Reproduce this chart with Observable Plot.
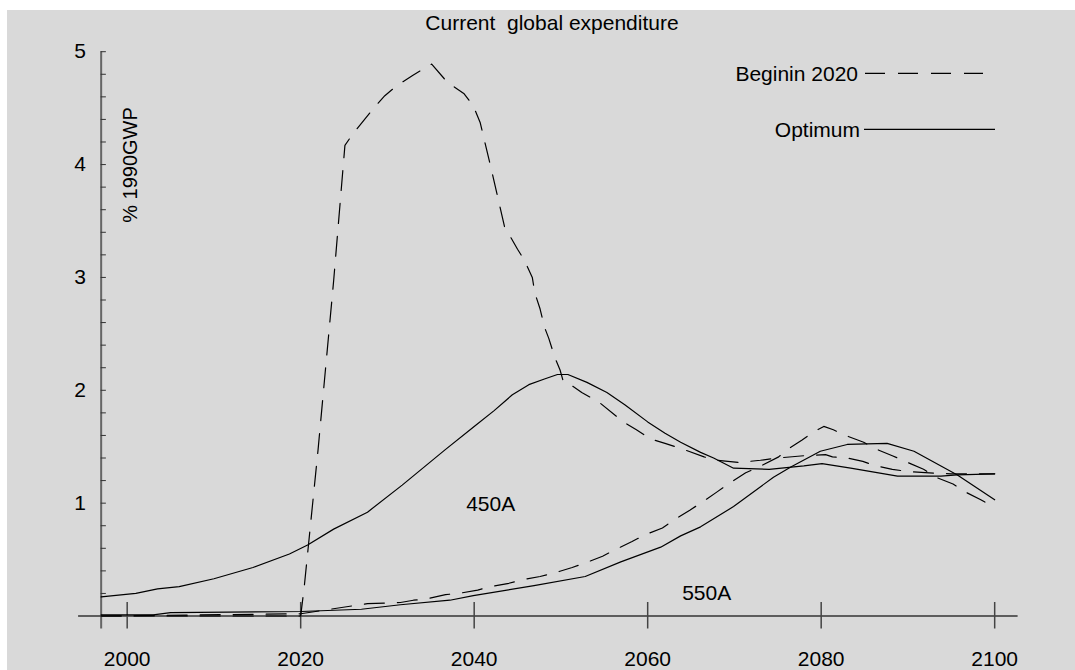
<!DOCTYPE html>
<html>
<head>
<meta charset="utf-8">
<script src="https://cdn.jsdelivr.net/npm/d3@7"></script>
<script src="https://cdn.jsdelivr.net/npm/@observablehq/plot@0.6"></script>
<style>
  html, body { margin: 0; padding: 0; background: #ffffff; }
  #wrap { position: relative; width: 1075px; height: 670px; overflow: hidden; }
  #bg { position: absolute; left: 7px; top: 10px; right: 0; bottom: 0; background: #d9d9d9; }
  #chart { position: absolute; left: 0; top: 0; }
</style>
</head>
<body>
<div id="wrap"><div id="bg"></div><div id="chart"></div></div>
<script>
// ---- Data ----
// 450A, optimum path (solid)
const opt450Years  = [1997, 2001, 2003.5, 2006, 2010, 2014.5, 2018.7, 2020.8, 2023.8, 2027.7, 2031.7, 2036.6, 2040, 2042.3, 2044.4, 2046.3, 2048.1, 2049.6, 2050.8, 2053, 2055.3, 2057.4, 2060, 2062, 2063.8, 2066.1, 2067.6, 2069.9, 2074, 2078, 2080.1, 2083.4, 2088.8, 2093.8, 2095.7, 2100];
const opt450Values = [0.17, 0.20, 0.24, 0.26, 0.33, 0.43, 0.55, 0.63, 0.77, 0.92, 1.16, 1.47, 1.68, 1.82, 1.96, 2.05, 2.10, 2.14, 2.14, 2.07, 1.98, 1.87, 1.72, 1.62, 1.54, 1.45, 1.40, 1.31, 1.30, 1.33, 1.35, 1.31, 1.24, 1.24, 1.25, 1.26];

// 450A, begin in 2020 (dashed)
const begin450Years  = [1997, 2020, 2020.4, 2022, 2023.8, 2025.1, 2026, 2028.2, 2029.7, 2031.1, 2032.9, 2035.1, 2036.9, 2038.8, 2039.9, 2040.7, 2042, 2043.5, 2045, 2045.8, 2046.7, 2047.0, 2047.6, 2048.1, 2048.6, 2049.3, 2049.9, 2050.3, 2051.1, 2052.4, 2054.3, 2057.2, 2058.7, 2060.3, 2062, 2064, 2066.5, 2068, 2070.5, 2073, 2075, 2078, 2080.5, 2081.3, 2083, 2084.8, 2086.3, 2088.2, 2090, 2092, 2095, 2100];
const begin450Values = [0, 0, 0.25, 1.47, 2.97, 4.17, 4.27, 4.48, 4.61, 4.70, 4.79, 4.89, 4.73, 4.63, 4.52, 4.37, 3.95, 3.45, 3.25, 3.15, 3.00, 2.86, 2.72, 2.56, 2.46, 2.29, 2.18, 2.07, 2.05, 1.98, 1.90, 1.72, 1.65, 1.57, 1.53, 1.48, 1.41, 1.38, 1.36, 1.38, 1.40, 1.42, 1.43, 1.41, 1.40, 1.37, 1.33, 1.30, 1.28, 1.27, 1.26, 1.26];

// 550A, optimum path (solid)
const opt550Years  = [1997, 2003, 2005, 2020, 2027, 2031.5, 2037.2, 2039.9, 2046.9, 2052.8, 2056.9, 2061.5, 2063.8, 2066.1, 2069.9, 2074.5, 2076.5, 2079.9, 2083, 2087.6, 2090.7, 2095.7, 2100];
const opt550Values = [0.01, 0.01, 0.03, 0.04, 0.06, 0.10, 0.14, 0.18, 0.27, 0.35, 0.48, 0.61, 0.71, 0.79, 0.97, 1.23, 1.32, 1.46, 1.52, 1.53, 1.46, 1.25, 1.03];

// 550A, begin in 2020 (dashed)
const begin550Years  = [1997, 2020, 2023.4, 2027.7, 2031.5, 2033, 2034.4, 2036.7, 2038.2, 2040.4, 2041.8, 2044, 2045.5, 2047.6, 2049.2, 2051.3, 2052.8, 2054.8, 2056.3, 2058.2, 2059.7, 2061.7, 2063, 2064.9, 2066.3, 2068, 2069.5, 2071.3, 2072.8, 2075.1, 2076, 2077.8, 2079.1, 2080.3, 2081.4, 2082.8, 2084.9, 2086.3, 2088.2, 2089.7, 2091.8, 2093.2, 2095.2, 2096.6, 2098.4, 2100];
const begin550Values = [0, 0.02, 0.06, 0.11, 0.12, 0.14, 0.15, 0.19, 0.20, 0.23, 0.26, 0.29, 0.32, 0.35, 0.38, 0.43, 0.47, 0.53, 0.59, 0.66, 0.72, 0.78, 0.85, 0.94, 1.01, 1.10, 1.18, 1.27, 1.32, 1.41, 1.47, 1.56, 1.63, 1.68, 1.65, 1.60, 1.54, 1.48, 1.42, 1.37, 1.30, 1.23, 1.17, 1.10, 1.03, 0.96];

// Axes / labels
const xTickYears = [2000, 2020, 2040, 2060, 2080, 2100];
const yTickLabels = [1, 2, 3, 4, 5];
const yMinorTicks = [0.2,0.4,0.6,0.8,1,1.2,1.4,1.6,1.8,2,2.2,2.4,2.6,2.8,3,3.2,3.4,3.6,3.8,4,4.2,4.4,4.6,4.8,5];
const yAxisYear = 1997;
const annotations = [{label: "450A", year: 2041.9, value: 0.99}, {label: "550A", year: 2066.8, value: 0.205}];
const titleText = "Current  global expenditure";
const yLabelText = "% 1990GWP";
const legendItems = [{label: "Beginin 2020", dash: "20,13"}, {label: "Optimum", dash: null}];

// ---- Build ----
const rows = (ys, vs) => ys.map((year, i) => ({year, value: vs[i]}));
const FONT = "'Liberation Sans', Arial, Helvetica, sans-serif";
const lineStyle = {x: "year", y: "value", stroke: "#000", strokeWidth: 1.2, curve: "linear"};

const chart = Plot.plot({
  width: 1075,
  height: 670,
  marginLeft: 78.1,
  marginRight: 57.4,
  marginTop: 51.2,
  marginBottom: 41.5,
  x: {domain: [1994.4, 2102.7], axis: null},
  y: {domain: [-0.115, 5], axis: null},
  style: {background: "transparent", fontFamily: FONT, fontSize: "21px", color: "#000", overflow: "visible"},
  marks: [
    Plot.ruleY([0], {stroke: "#333", strokeWidth: 1.4}),
    Plot.ruleX([yAxisYear], {stroke: "#666", strokeWidth: 2}),
    Plot.ruleY(yMinorTicks, {x1: yAxisYear, x2: yAxisYear + 0.6, stroke: "#333", strokeWidth: 1}),
    Plot.ruleX(xTickYears, {y1: -0.115, y2: 0.12, stroke: "#444", strokeWidth: 1.5}),
    Plot.text(yTickLabels, {x: yAxisYear, y: d => d, dx: -21, text: d => String(d), fill: "#000", fontSize: 21}),
    Plot.text(xTickYears, {x: d => d, y: 0, dy: 43, text: d => String(d), fill: "#000", fontSize: 21}),
    Plot.line(rows(opt450Years, opt450Values), lineStyle),
    Plot.line(rows(opt550Years, opt550Values), lineStyle),
    Plot.line(rows(begin450Years, begin450Values), {...lineStyle, strokeDasharray: "20,13"}),
    Plot.line(rows(begin550Years, begin550Values), {...lineStyle, strokeDasharray: "20,13"}),
    Plot.text(annotations, {x: "year", y: "value", text: "label", fill: "#000", fontSize: 21})
  ]
});
document.getElementById("chart").appendChild(chart);

// Title, y label and legend (decorations)
const svg = d3.select(chart);
svg.append("text").attr("x", 552).attr("y", 30).attr("text-anchor", "middle")
  .style("white-space", "pre").attr("font-family", FONT).attr("font-size", 21).attr("fill", "#000")
  .text(titleText);
svg.append("text").attr("transform", "translate(136.5,165) rotate(-90)").attr("text-anchor", "middle")
  .attr("font-family", FONT).attr("font-size", 20).attr("fill", "#000").text(yLabelText);
const legendY = [73.3, 129.3];
const legendTextRight = [858, 860];
const legendLineX = [[865, 983], [864, 995]];
legendItems.forEach((item, i) => {
  svg.append("text").attr("x", legendTextRight[i]).attr("y", legendY[i]).attr("dy", "0.36em")
    .attr("text-anchor", "end").attr("font-family", FONT).attr("font-size", 21).attr("fill", "#000").text(item.label);
  const ln = svg.append("line").attr("x1", legendLineX[i][0]).attr("x2", legendLineX[i][1])
    .attr("y1", legendY[i]).attr("y2", legendY[i]).attr("stroke", "#000").attr("stroke-width", 1.2);
  if (item.dash) ln.attr("stroke-dasharray", item.dash);
});
</script>
</body>
</html>
